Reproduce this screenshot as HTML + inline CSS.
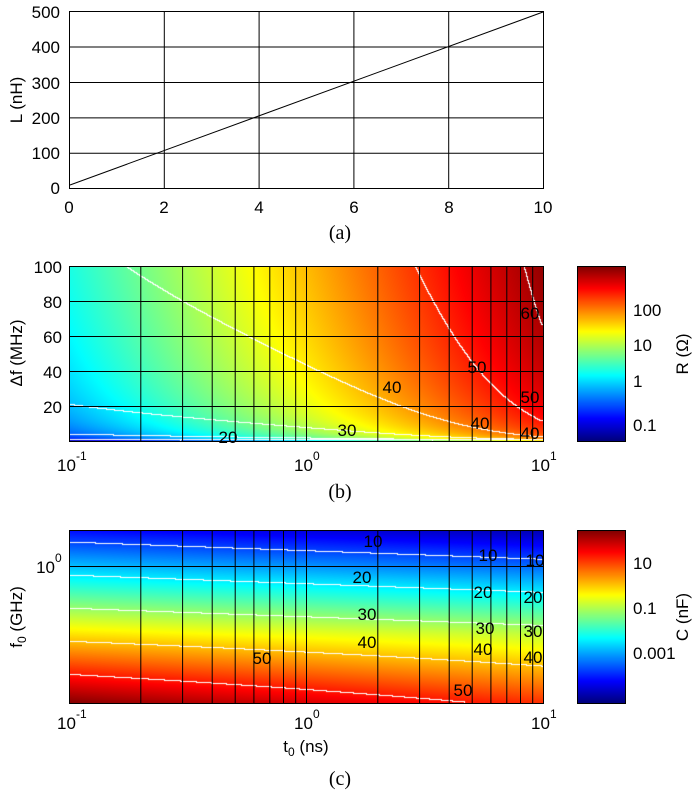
<!DOCTYPE html>
<html><head><meta charset="utf-8"><style>
html,body{margin:0;padding:0;background:#fff;width:700px;height:800px;overflow:hidden}
#w{position:relative;width:700px;height:800px}
canvas{position:absolute}
svg{position:absolute;left:0;top:0}
text{font-family:"Liberation Sans",sans-serif;font-size:17px;fill:#000}
.s{font-family:"Liberation Serif",serif;font-size:20px}
</style></head><body><div id="w">
<canvas id="cb" width="474" height="175" style="left:69px;top:266px"></canvas>
<canvas id="cc" width="474" height="173" style="left:69px;top:530px"></canvas>
<canvas id="bb" width="48" height="175" style="left:577px;top:266px"></canvas>
<canvas id="bc" width="48" height="173" style="left:577px;top:530px"></canvas>
<svg width="700" height="800" id="sv">
<g stroke="#000" stroke-width="1" fill="none">
<rect x="69.5" y="11.5" width="474" height="177"/>
<path d="M164.3 11.5V188.5M259.1 11.5V188.5M353.9 11.5V188.5M448.7 11.5V188.5M69.5 47h474M69.5 82.5h474M69.5 117.9h474M69.5 153.3h474"/>
<path d="M70 185 L543 12"/>
<rect x="69.5" y="266.5" width="474" height="175"/>
<rect x="69.5" y="530.5" width="474" height="173"/>
<rect x="577.5" y="266.5" width="48" height="175"/>
<rect x="577.5" y="530.5" width="48" height="173"/>
<path id="gb" d=""/><path id="gc" d=""/>
<path d="M69.5 301.5h474M69.5 336.5h474M69.5 371.5h474M69.5 406.5h474M69.5 566.5h474"/>
</g>
<text x="60" y="18" text-anchor="end">500</text>
<text x="60" y="53" text-anchor="end">400</text>
<text x="60" y="89" text-anchor="end">300</text>
<text x="60" y="124" text-anchor="end">200</text>
<text x="60" y="159" text-anchor="end">100</text>
<text x="60" y="194" text-anchor="end">0</text>
<text x="69" y="213" text-anchor="middle">0</text>
<text x="164" y="213" text-anchor="middle">2</text>
<text x="259" y="213" text-anchor="middle">4</text>
<text x="354" y="213" text-anchor="middle">6</text>
<text x="449" y="213" text-anchor="middle">8</text>
<text x="543" y="213" text-anchor="middle">10</text>
<text x="22" y="100" text-anchor="middle" transform="rotate(-90 22 100)">L (nH)</text>
<text class="s" x="340" y="239" text-anchor="middle">(a)</text>

<text x="62" y="273" text-anchor="end">100</text>
<text x="62" y="308" text-anchor="end">80</text>
<text x="62" y="343" text-anchor="end">60</text>
<text x="62" y="378" text-anchor="end">40</text>
<text x="62" y="413" text-anchor="end">20</text>
<text x="22" y="353" text-anchor="middle" transform="rotate(-90 22 353)">Δf (MHz)</text>
<text class="s" x="340" y="498" text-anchor="middle">(b)</text>
<text x="633" y="316">100</text>
<text x="633" y="351">10</text>
<text x="633" y="387">1</text>
<text x="633" y="431">0.1</text>
<text x="688" y="354" text-anchor="middle" transform="rotate(-90 688 354)">R (Ω)</text>

<text x="55" y="573" text-anchor="end">10</text><text x="55" y="562" style="font-size:12px">0</text>
<text x="22" y="617" text-anchor="middle" transform="rotate(-90 22 617)">f<tspan font-size="12" dy="4">0</tspan><tspan dy="-4"> (GHz)</tspan></text>
<text x="633" y="569">10</text>
<text x="633" y="614">0.1</text>
<text x="633" y="659">0.001</text>
<text x="688" y="617" text-anchor="middle" transform="rotate(-90 688 617)">C (nF)</text>
<text x="306" y="752" text-anchor="middle">t<tspan font-size="12" dy="4">0</tspan><tspan dy="-4"> (ns)</tspan></text>
<text class="s" x="340" y="785" text-anchor="middle">(c)</text>
</svg>
</div>
<script>
function jet(t){t=Math.max(0,Math.min(1,t));
function f(x){return Math.max(0,Math.min(1,1.5-Math.abs(x)))}
return [255*f(4*t-3),255*f(4*t-2),255*f(4*t-1)];}
var ns="http://www.w3.org/2000/svg";
var gx="";[0.2,0.3,0.4,0.5,0.6,0.7,0.8,0.9,1,2,3,4,5,6,7,8,9].forEach(function(v){var x=69.5+237*(Math.log10(v)+1);gx+="M"+x.toFixed(1)+" Y0V Y1";});
document.getElementById("gb").setAttribute("d",gx.replace(/Y0/g,"266").replace(/ Y1/g,"441"));
document.getElementById("gc").setAttribute("d",gx.replace(/Y0/g,"530").replace(/ Y1/g,"703"));
var sv=document.getElementById("sv");
function tx(x,y,s,sz,anc){var t=document.createElementNS(ns,"text");t.setAttribute("x",x);t.setAttribute("y",y);if(sz)t.setAttribute("style","font-size:"+sz+"px");if(anc)t.setAttribute("text-anchor",anc);t.textContent=s;sv.appendChild(t);}
[[0.1,"-1"],[1,"0"],[10,"1"]].forEach(function(a){var x=69+237*(Math.log10(a[0])+1);
[471,729].forEach(function(y){tx(x-12,y,"10",17);tx(x+7,y-11,a[1],12);});});
function draw(id,W,H,col,lev){var c=document.getElementById(id).getContext("2d");var im=c.createImageData(W,H);var L=[];
for(var j=0;j<H;j++){for(var i=0;i<W;i++){var u=i/(W-1),y=1-j/(H-1);var k=(j*W+i)*4;var cc=jet(col(u,y));im.data[k]=cc[0];im.data[k+1]=cc[1];im.data[k+2]=cc[2];im.data[k+3]=255;L.push(Math.floor(lev(u,y)/10));}}
for(var j=0;j<H;j++)for(var i=0;i<W;i++){var a=L[j*W+i];if((i+1<W&&L[j*W+i+1]!=a)||(j+1<H&&L[(j+1)*W+i]!=a)){var k=(j*W+i)*4;im.data[k]=im.data[k+1]=im.data[k+2]=255;}}
c.putImageData(im,0,0);}
draw("cb",474,175,function(u,y){return 0.40+0.58*u+0.13*Math.log10(y+0.003)},
function(u,y){return 38.8+10*u+13.5*Math.pow(u,4)+12.8*Math.log10(Math.max(y,1e-4))});
function Lc(u,y){return 10+52*(0.93-y-0.1*u)-12*u*Math.max(0,0.4-y);}
draw("cc",474,173,function(u,y){return 0.03+0.0165*Lc(u,y)},Lc);
function bar(id,H){var c=document.getElementById(id).getContext("2d");for(var j=0;j<H;j++){var cc=jet(1-j/(H-1));c.fillStyle="rgb("+cc.map(Math.round).join(",")+")";c.fillRect(0,j,48,1);}}
bar("bb",175);bar("bc",173);
var labs=[[228,443,"20"],[392,393,"40"],[347,436,"30"],[477,373,"50"],[530,403,"50"],[530,319,"60"],[480,429,"40"],[530,439,"40"],
[373,547,"10"],[488,561,"10"],[535,566,"10"],[362,583,"20"],[483,598,"20"],[533,603,"20"],[367,620,"30"],[485,634,"30"],[533,637,"30"],[367,648,"40"],[483,655,"40"],[533,663,"40"],[262,664,"50"],[463,696,"50"]];
labs.forEach(function(a){tx(a[0],a[1],a[2],17,"middle");});
</script>
</body></html>
